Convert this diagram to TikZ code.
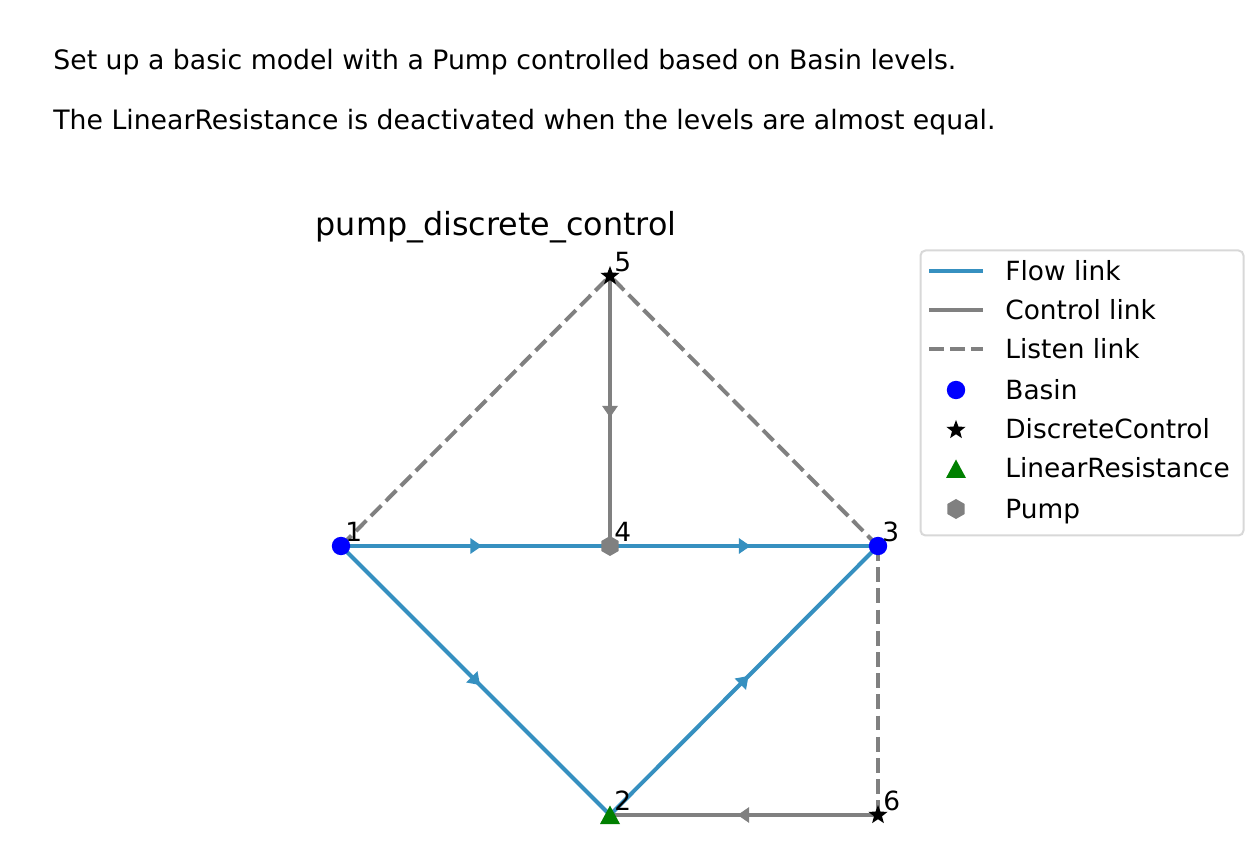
\documentclass[tikz,border=0pt]{standalone}
\usepackage{fontspec}
\setmainfont{DejaVu Sans}
\usetikzlibrary{decorations.markings}
\definecolor{flowc}{RGB}{54,144,192}
\definecolor{ctrlc}{RGB}{128,128,128}
\definecolor{lgedge}{RGB}{216,216,216}
\definecolor{lrgreen}{RGB}{0,128,0}
\tikzset{
  midarrow/.style={postaction={decorate}, decoration={markings,
     mark=at position 0.5 with {\fill[#1] (3.2pt,0) -- (-2.6pt,4pt) -- (-2.6pt,-4pt) -- cycle;}}},
  flowline/.style={draw=flowc, line width=2pt},
  ctrlline/.style={draw=ctrlc, line width=2pt},
  listenline/.style={draw=ctrlc, line width=2pt, dash pattern=on 7.4pt off 3.2pt},
  flowlink/.style={flowline, midarrow=flowc},
  ctrllink/.style={ctrlline, midarrow=ctrlc},
  txt/.style={font=\fontsize{13.35}{16}\selectfont, inner sep=0pt, anchor=base west},
  lgtxt/.style={font=\fontsize{13.2}{16}\selectfont, inner sep=0pt, anchor=base west},
  lbl/.style={font=\fontsize{13.2}{16}\selectfont, inner sep=0pt, anchor=base west},
  basin/.pic={\fill[blue] (0,0) circle[radius=9.2];},
  dcstar/.pic={\fill[black] (-90:10) -- (-54:4.2) -- (-18:10) -- (18:4.2) -- (54:10) -- (90:4.2) -- (126:10) -- (162:4.2) -- (198:10) -- (234:4.2) -- cycle;},
  lrtri/.pic={\fill[lrgreen] (0,-9.5) -- (-10,9) -- (10,9) -- cycle;},
  pumphex/.pic={\fill[ctrlc] (-90:10) -- (-30:10) -- (30:10) -- (90:10) -- (150:10) -- (210:10) -- cycle;}
}
\begin{document}
\begin{tikzpicture}[x=0.5pt,y=-0.5pt]
\useasboundingbox (0,0) rectangle (1260,861);
% top text
\node[txt] (t1) at (53,70) {Set up a basic model with a Pump controlled based on Basin levels.};
\node[txt] (t2) at (53,130) {The LinearResistance is deactivated when the levels are almost equal.};
% title
\node[font=\fontsize{15.9}{19}\selectfont, inner sep=0pt, anchor=base] (title) at (496,236) {pump\_discrete\_control};
% node positions
\coordinate (n1) at (341,546);
\coordinate (n2) at (610,815);
\coordinate (n3) at (878,546);
\coordinate (n4) at (610,546);
\coordinate (n5) at (610,276);
\coordinate (n6) at (878,815);
% listen links
\draw[listenline] (n1) -- (n5);
\draw[listenline] (n3) -- (n5);
\draw[listenline] (n3) -- (n6);
% control links
\draw[ctrllink] (n5) -- (n4);
\draw[ctrllink] (n6) -- (n2);
% flow links
\draw[flowlink] (n1) -- (n4);
\draw[flowlink] (n4) -- (n3);
\draw[flowlink] (n1) -- (n2);
\draw[flowlink] (n2) -- (n3);
% markers
\pic at (n1) {basin};
\pic at (n3) {basin};
\pic at (n2) {lrtri};
\pic at (n4) {pumphex};
\pic at (n5) {dcstar};
\pic at (n6) {dcstar};
% labels
\node[lbl] (l1) at (345,541) {1};
\node[lbl] (l2) at (614,810) {2};
\node[lbl] (l3) at (882,541) {3};
\node[lbl] (l4) at (614,541) {4};
\node[lbl] (l5) at (614,272) {5};
\node[lbl] (l6) at (883,810) {6};
% legend
\node[draw=lgedge, fill=white, line width=1pt, rounded corners=2.5pt, minimum width=161.5pt, minimum height=142.5pt, anchor=north west, inner sep=0pt] (legend) at (919.5,249.5) {};
\coordinate (fa) at (929,271); \coordinate (fb) at (983,271);
\coordinate (ca) at (929,310); \coordinate (cb) at (983,310);
\coordinate (la) at (929,349); \coordinate (lb) at (983,349);
\draw[flowline] (fa) -- (fb);
\draw[ctrlline] (ca) -- (cb);
\draw[listenline] (la) -- (lb);
\coordinate (mb) at (956,390);
\coordinate (md) at (956,430);
\coordinate (ml) at (956,469);
\coordinate (mp) at (956,509);
\pic at (mb) {basin};
\pic at (md) {dcstar};
\pic at (ml) {lrtri};
\pic at (mp) {pumphex};
\node[lgtxt] (e1) at (1005,281) {Flow link};
\node[lgtxt] (e2) at (1005,320) {Control link};
\node[lgtxt] (e3) at (1005,359) {Listen link};
\node[lgtxt] (e4) at (1005,400) {Basin};
\node[lgtxt] (e5) at (1005,439) {DiscreteControl};
\node[lgtxt] (e6) at (1005,478) {LinearResistance};
\node[lgtxt] (e7) at (1005,518) {Pump};
\end{tikzpicture}
\end{document}
